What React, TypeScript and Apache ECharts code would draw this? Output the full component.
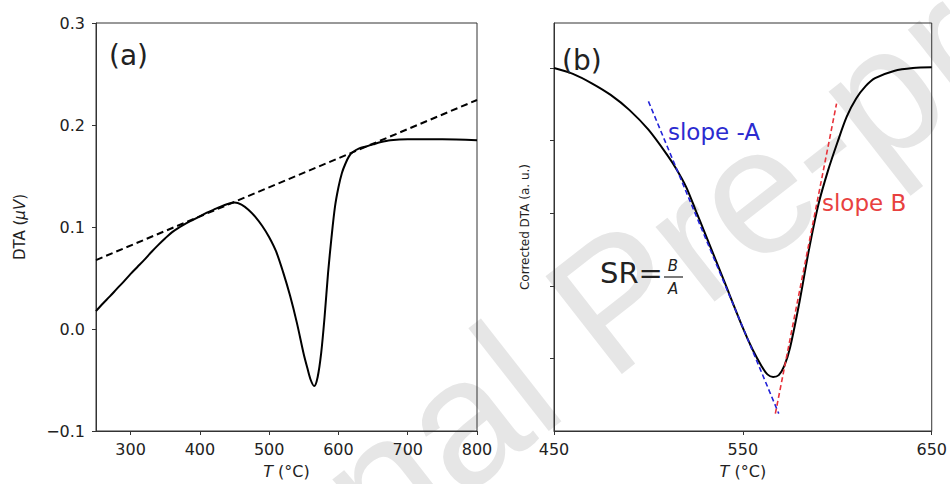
import React, { useEffect, useRef } from 'react';
import * as echarts from 'echarts';

// Panel (a): raw DTA signal
const tempA = [250, 260, 270, 280, 290, 300, 310, 320, 330, 340, 350, 360, 370, 380, 390, 400, 410, 420, 430, 440, 450, 460, 470, 480, 490, 500, 510, 520, 530, 540, 550, 555, 560, 565, 570, 575, 580, 585, 590, 595, 600, 605, 610, 615, 620, 630, 640, 650, 660, 675, 700, 750, 800];
const dtaA = [0.0176, 0.025, 0.032, 0.0393, 0.0465, 0.054, 0.061, 0.068, 0.0755, 0.0825, 0.089, 0.095, 0.0995, 0.1035, 0.107, 0.1105, 0.114, 0.117, 0.12, 0.1225, 0.124, 0.122, 0.117, 0.11, 0.101, 0.09, 0.076, 0.056, 0.033, 0.006, -0.025, -0.038, -0.05, -0.056, -0.047, -0.024, 0.012, 0.055, 0.09, 0.12, 0.139, 0.153, 0.162, 0.169, 0.173, 0.177, 0.179, 0.181, 0.183, 0.185, 0.186, 0.186, 0.185];
const baselineT = [250, 800];
const baselineV = [0.0676, 0.2245];

// Panel (b): corrected DTA
const tempB = [450, 460, 470, 480, 490, 500, 510, 515, 520, 525, 530, 540, 550, 555, 560, 563, 566, 569, 572, 575, 580, 585, 590, 595, 600, 605, 610, 615, 620, 630, 640, 650];
const dtaB = [5.0, 4.92, 4.79, 4.63, 4.42, 4.15, 3.8, 3.6, 3.36, 3.04, 2.72, 2.07, 1.42, 1.13, 0.89, 0.78, 0.745, 0.77, 0.9, 1.15, 1.78, 2.5, 3.12, 3.58, 3.97, 4.33, 4.58, 4.75, 4.86, 4.96, 5.0, 5.01];
const slopeAT = [500, 569];
const slopeAV = [4.54, 0.24];
const slopeBT = [567.2, 599.6];
const slopeBV = [0.24, 4.51];

// Ticks
const xTicksA = [300, 400, 500, 600, 700, 800];
const xTicksB = [450, 550, 650];
const yTicksB = [1, 2, 3, 4, 5];

const FONT = 'DejaVu Sans';
const AXIS_COLOR = '#333';
const TEXT_COLOR = '#222';

const pairs = (xs: number[], ys: number[]) => xs.map((x, i) => [x, ys[i]]);

export default function App() {
  const ref = useRef<HTMLDivElement>(null);

  useEffect(() => {
    if (!ref.current) return;
    const chart = echarts.init(ref.current, undefined, { renderer: 'svg' });

    const axisLine = { show: true, onZero: false, lineStyle: { color: AXIS_COLOR, width: 1 } };
    const tickStyle = { color: AXIS_COLOR, width: 1 };
    const labelBase = { color: TEXT_COLOR, fontSize: 16, fontFamily: FONT };
    const richItalic = { i: { fontStyle: 'italic', fontSize: 16, fontFamily: FONT, color: TEXT_COLOR } };

    const option: any = {
      animation: false,
      backgroundColor: '#fff',
      grid: [
        { left: 96, top: 23, width: 381, height: 408, show: true, borderColor: AXIS_COLOR, borderWidth: 1, backgroundColor: 'transparent' },
        { left: 554, top: 23, width: 380, height: 408, show: true, borderColor: AXIS_COLOR, borderWidth: 1, backgroundColor: 'transparent' },
      ],
      xAxis: [
        {
          type: 'value', gridIndex: 0, min: 250, max: 800,
          axisLine,
          axisTick: { show: true, length: 4, customValues: xTicksA, lineStyle: tickStyle },
          axisLabel: { ...labelBase, margin: 10, customValues: xTicksA },
          splitLine: { show: false },
          name: '{i|T} (°C)', nameLocation: 'middle', nameGap: 32,
          nameTextStyle: { fontSize: 16, fontFamily: FONT, color: TEXT_COLOR, rich: richItalic },
        },
        {
          type: 'value', gridIndex: 1, min: 450, max: 650,
          axisLine,
          axisTick: { show: true, length: 4, customValues: xTicksB, lineStyle: tickStyle },
          axisLabel: { ...labelBase, margin: 10, customValues: xTicksB },
          splitLine: { show: false },
          name: '{i|T} (°C)', nameLocation: 'middle', nameGap: 32,
          nameTextStyle: { fontSize: 16, fontFamily: FONT, color: TEXT_COLOR, rich: richItalic },
        },
      ],
      yAxis: [
        {
          type: 'value', gridIndex: 0, min: -0.1, max: 0.3, interval: 0.1,
          axisLine,
          axisTick: { show: true, length: 4, lineStyle: tickStyle },
          axisLabel: {
            ...labelBase, margin: 11,
            formatter: (v: number) => (v < -1e-9 ? '\u2212' + Math.abs(v).toFixed(1) : Math.abs(v).toFixed(1)),
          },
          splitLine: { show: false },
          name: 'DTA ({i|μV})', nameLocation: 'middle', nameGap: 69, nameRotate: 90,
          nameTextStyle: { fontSize: 15, fontFamily: FONT, color: TEXT_COLOR, rich: { i: { fontStyle: 'italic', fontSize: 15, fontFamily: FONT, color: TEXT_COLOR } } },
        },
        {
          type: 'value', gridIndex: 1, min: 0, max: 5.62,
          axisLine,
          axisTick: { show: true, length: 4, customValues: yTicksB, lineStyle: tickStyle },
          axisLabel: { show: false },
          splitLine: { show: false },
          name: 'Corrected DTA (a. u.)', nameLocation: 'middle', nameGap: 23, nameRotate: 90,
          nameTextStyle: { fontSize: 12, fontFamily: FONT, color: TEXT_COLOR },
        },
      ],
      series: [
        {
          type: 'line', xAxisIndex: 0, yAxisIndex: 0, data: pairs(baselineT, baselineV),
          showSymbol: false, lineStyle: { color: '#000', width: 2, type: [7, 4] }, z: 3,
        },
        {
          type: 'line', xAxisIndex: 0, yAxisIndex: 0, data: pairs(tempA, dtaA),
          showSymbol: false, smooth: 0.3, lineStyle: { color: '#000', width: 2 }, z: 2,
        },
        {
          type: 'line', xAxisIndex: 1, yAxisIndex: 1, data: pairs(tempB, dtaB),
          showSymbol: false, smooth: 0.3, lineStyle: { color: '#000', width: 2 }, z: 2,
        },
        {
          type: 'line', xAxisIndex: 1, yAxisIndex: 1, data: pairs(slopeAT, slopeAV),
          showSymbol: false, lineStyle: { color: '#2323d8', width: 1.6, type: [5, 3] }, z: 3,
        },
        {
          type: 'line', xAxisIndex: 1, yAxisIndex: 1, data: pairs(slopeBT, slopeBV),
          showSymbol: false, lineStyle: { color: '#e8323a', width: 1.6, type: [5, 3] }, z: 3,
        },
      ],
      graphic: [
        {
          type: 'text', x: 615, y: 300, rotation: (38 * Math.PI) / 180, z: -10, silent: true,
          style: { text: 'Journal Pre-proof', fontSize: 180, fontFamily: 'Liberation Sans', fill: '#e6e6e6', textAlign: 'center', textVerticalAlign: 'middle' },
        },
        { type: 'text', x: 109, y: 55, z: 10, style: { text: '(a)', fontSize: 28, fontFamily: FONT, fill: '#222', textVerticalAlign: 'middle' } },
        { type: 'text', x: 562, y: 60, z: 10, style: { text: '(b)', fontSize: 28, fontFamily: FONT, fill: '#222', textVerticalAlign: 'middle' } },
        { type: 'text', x: 668, y: 132, z: 10, style: { text: 'slope -A', fontSize: 23, fontFamily: FONT, fill: '#2b2bd0', textVerticalAlign: 'middle' } },
        { type: 'text', x: 822, y: 203, z: 10, style: { text: 'slope B', fontSize: 23, fontFamily: FONT, fill: '#e8413f', textVerticalAlign: 'middle' } },
        { type: 'text', x: 600, y: 273, z: 10, style: { text: 'SR=', fontSize: 29, fontFamily: FONT, fill: '#222', textVerticalAlign: 'middle' } },
        { type: 'text', x: 673, y: 266, z: 10, style: { text: 'B', fontSize: 15, fontStyle: 'italic', fontFamily: FONT, fill: '#222', textAlign: 'center', textVerticalAlign: 'middle' } },
        { type: 'line', z: 10, shape: { x1: 664, y1: 277, x2: 683, y2: 277 }, style: { stroke: '#222', lineWidth: 1.2 } },
        { type: 'text', x: 673, y: 289, z: 10, style: { text: 'A', fontSize: 15, fontStyle: 'italic', fontFamily: FONT, fill: '#222', textAlign: 'center', textVerticalAlign: 'middle' } },
      ],
    };

    chart.setOption(option);
    return () => chart.dispose();
  }, []);

  return <div ref={ref} style={{ position: 'fixed', left: 0, top: 0, width: 950, height: 484, background: '#fff' }} />;
}
